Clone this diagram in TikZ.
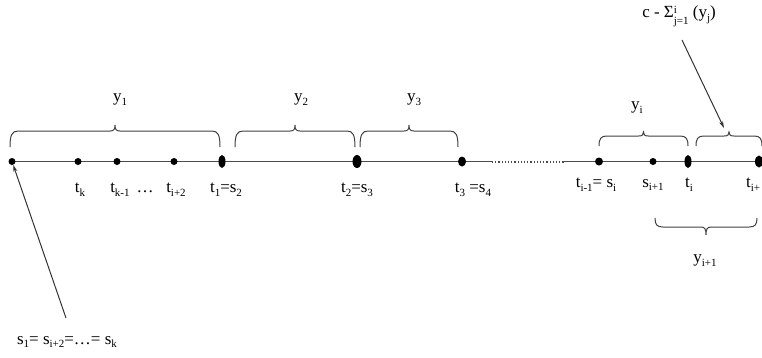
\documentclass[tikz,border=0pt]{standalone}
\usepackage{fontspec}
\setmainfont{Liberation Serif}
\usetikzlibrary{arrows.meta,shapes.geometric}
\newcommand\sbs[1]{\raisebox{-0.5ex}{\fontsize{11}{11}\selectfont #1}}
\newcommand\sbsup[2]{\raisebox{-0.9ex}{\fontsize{11}{10}\selectfont\shortstack[l]{#1\\#2}}}
% brace: x1, x2, y of flat part, tip depth (signed), cusp height (signed)
\newcommand\mybrace[5]{%
  \pgfmathsetmacro\bm{(#1+#2)/2}%
  \draw[brc] ({#1},{#3+#4}) .. controls ({#1},{#3+0.25*#4}) and ({#1+2},{#3}) .. ({#1+8},{#3})
    -- ({\bm-5},{#3}) .. controls ({\bm-1},{#3}) and ({\bm},{#3-0.3*#5}) .. ({\bm},{#3-#5})
    .. controls ({\bm},{#3-0.3*#5}) and ({\bm+1},{#3}) .. ({\bm+5},{#3})
    -- ({#2-8},{#3}) .. controls ({#2-2},{#3}) and ({#2},{#3+0.25*#4}) .. ({#2},{#3+#4});}
\tikzset{
  dot/.style={circle,fill=black,inner sep=0pt,minimum size=7pt},
  edot/.style={ellipse,fill=black,inner sep=0pt,minimum width=7pt,minimum height=13pt},
  lbl/.style={inner sep=1pt,font=\fontsize{17}{19}\selectfont},
  brc/.style={draw=black!75,line width=1pt},
  axis/.style={draw=black!70,line width=1.2pt},
  arr/.style={draw=black!80,line width=1pt,-{Stealth[length=7pt,width=4pt]}}
}
\begin{document}
\begin{tikzpicture}[x=1pt,y=-1pt]
\useasboundingbox (0,0) rectangle (762,357);
% axis
\coordinate (a0) at (12,161.5);
\coordinate (g1) at (492,161.5);
\coordinate (g2) at (564,161.5);
\coordinate (a1) at (762,161.5);
\draw[axis] (a0) -- (g1);
\draw[axis,dotted,line width=2pt] (g1) -- (g2);
\draw[axis] (g2) -- (a1);
% dots
\node[dot] (d0) at (12,161.5) {};
\node[dot] (dk) at (78,161.5) {};
\node[dot] (dk1) at (117,161.5) {};
\node[dot] (di2) at (174,161.5) {};
\node[edot] (d1) at (222,161.5) {};
\node[edot,minimum width=9pt] (d2) at (357,161.5) {};
\node[edot,minimum width=8pt,minimum height=10pt] (d3) at (462,161.5) {};
\node[dot,minimum width=7pt,minimum height=8pt] (dim1) at (599,161.5) {};
\node[dot] (dsi1) at (653,161.5) {};
\node[edot] (di) at (688,161.5) {};
\node[edot,minimum width=8pt,minimum height=12pt] (dip) at (759,161.5) {};
% point labels
\node[lbl] (lk) at (80,190) {t\sbs{k}};
\node[lbl] (lk1) at (132,190) {t\sbs{k-1} \,…};
\node[lbl] (li2) at (176,190) {t\sbs{i+2}};
\node[lbl] (l1) at (226,190) {t\sbs{1}=s\sbs{2}};
\node[lbl] (l2) at (357,190) {t\sbs{2}=s\sbs{3}};
\node[lbl] (l3) at (473,190) {t\sbs{3} =s\sbs{4}};
\node[lbl] (lim1) at (596,185) {t\sbs{i-1}= s\sbs{i}};
\node[lbl] (lsi1) at (653,185) {s\sbs{i+1}};
\node[lbl] (li) at (689,185) {t\sbs{i}};
\node[lbl,anchor=west] (lip) at (745,185) {t\sbs{i+}};
% braces
\mybrace{10}{220}{131}{16}{6}
\mybrace{235}{355}{131}{16}{6}
\mybrace{360}{458}{131}{16}{6}
\mybrace{599}{688}{136}{10}{4}
\mybrace{696}{762}{136}{10}{4}
\mybrace{655}{757}{227}{-9}{-8}
% brace labels
\node[lbl] (y1) at (120,100) {y\sbs{1}};
\node[lbl] (y2) at (301,100) {y\sbs{2}};
\node[lbl] (y3) at (414,100) {y\sbs{3}};
\node[lbl] (yi) at (637,108) {y\sbs{i}};
\node[lbl] (yi1) at (705,261) {y\sbs{i+1}};
% annotation labels and arrows
\node[lbl] (cl) at (679,16) {c - Σ\sbsup{i}{j=1} (y\sbs{j})};
\coordinate (ca) at (682,40);
\coordinate (cb) at (724,128);
\draw[arr] (ca) -- (cb);
\node[lbl] (sl) at (67,342) {s\sbs{1}= s\sbs{i+2}=…= s\sbs{k}};
\coordinate (sa) at (66,318);
\draw[arr] (sa) -- (d0);
\end{tikzpicture}
\end{document}
